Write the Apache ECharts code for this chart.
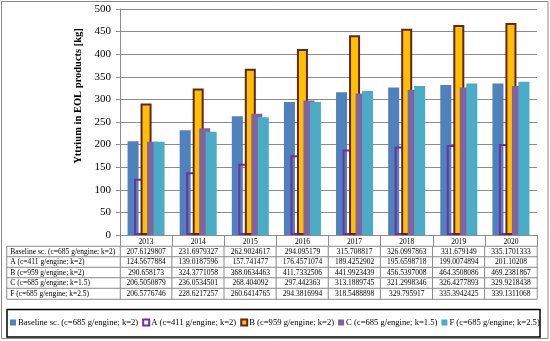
<!DOCTYPE html>
<html>
<head>
<meta charset="utf-8">
<script src="https://cdn.jsdelivr.net/npm/echarts@6/dist/echarts.min.js"></script>
<style>html,body{margin:0;padding:0;background:#fff;}#c{width:550px;height:341px;}</style>
</head>
<body>
<div id="c"></div>
<script>
const years = ['2013','2014','2015','2016','2017','2018','2019','2020'];
const seriesNames = [
  'Baseline sc. (c=685 g/engine; k=2)',
  'A (c=411 g/engine; k=2)',
  'B (c=959 g/engine; k=2)',
  'C (c=685 g/engine; k=1.5)',
  'F (c=685 g/engine; k=2.5)'
];
const baseline = [207.6129807, 231.6979327, 262.9024617, 294.095179, 315.708817, 326.0997863, 331.679149, 335.1701333];
const scenA = [124.5677884, 139.0187596, 157.741477, 176.4571074, 189.4252902, 195.6598718, 199.0074894, 201.10208];
const scenB = [290.658173, 324.3771058, 368.0634463, 411.7332506, 441.9923439, 456.5397008, 464.3508086, 469.2381867];
const scenC = [206.5050879, 236.0534501, 268.404092, 297.442363, 313.1889745, 321.2998346, 326.4277893, 329.9218438];
const scenF = [206.5776746, 228.6217257, 260.6414765, 294.3816994, 318.5488898, 329.795917, 335.3942425, 339.1311068];
const yTitle = 'Yttrium in EOL products [kg]';

const allSeries = [baseline, scenA, scenB, scenC, scenF];
const serif = 'Liberation Serif, Times New Roman, serif';
const gridGray = '#8c8c8c';

const tableData = [];
allSeries.forEach((arr, r) => arr.forEach((v, c) => tableData.push([c, r, v])));
const headerData = seriesNames.map((n, r) => [0, r, r]);

const chart = echarts.init(document.getElementById('c'), null, {renderer: 'canvas'});
chart.setOption({
  animation: false,
  backgroundColor: '#fff',
  grid: [
    {left: 120, right: 13, top: 9, bottom: 106},
    {left: 120, right: 13, top: 246.5, height: 52.5},
    {left: 7, width: 113, top: 246.5, height: 52.5}
  ],
  xAxis: [
    {type: 'category', data: years, gridIndex: 0,
     axisLine: {lineStyle: {color: gridGray, width: 1}},
     axisTick: {show: true, length: 11.5, lineStyle: {color: gridGray}},
     axisLabel: {color: '#000', fontFamily: serif, fontSize: 7.5, margin: 3}},
    {type: 'category', data: years, gridIndex: 1, show: false},
    {type: 'category', data: ['h'], gridIndex: 2, show: false}
  ],
  yAxis: [
    {type: 'value', min: 0, max: 500, interval: 50, gridIndex: 0,
     axisLine: {show: true, lineStyle: {color: gridGray}},
     axisTick: {show: true, length: 4, lineStyle: {color: gridGray}},
     axisLabel: {color: '#000', fontFamily: serif, fontSize: 11, margin: 9},
     splitLine: {lineStyle: {color: gridGray, width: 1}}},
    {type: 'category', data: seriesNames, inverse: true, gridIndex: 1, show: false},
    {type: 'category', data: seriesNames, inverse: true, gridIndex: 2, show: false}
  ],
  legend: {
    data: seriesNames,
    left: 10, top: 318,
    icon: 'rect',
    itemWidth: 6, itemHeight: 6, itemGap: 4,
    padding: 0,
    textStyle: {fontFamily: serif, fontSize: 8.6, color: '#000', padding: [0,0,0,-3]},
    selectedMode: false
  },
  series: [
    {name: seriesNames[0], type: 'bar', data: baseline, barGap: '-41%', barCategoryGap: '29%',
     itemStyle: {color: '#4f81bd'}},
    {name: seriesNames[1], type: 'bar', data: scenA,
     itemStyle: {color: 'rgba(255,255,255,0)', borderColor: '#7030a0', borderWidth: 2}},
    {name: seriesNames[2], type: 'bar', data: scenB,
     itemStyle: {color: '#ffc000', borderColor: '#632523', borderWidth: 2}},
    {name: seriesNames[3], type: 'bar', data: scenC,
     itemStyle: {color: '#8064a2'}},
    {name: seriesNames[4], type: 'bar', data: scenF,
     itemStyle: {color: '#4bacc6'}},
    {type: 'heatmap', xAxisIndex: 1, yAxisIndex: 1, data: tableData,
     itemStyle: {color: '#fff', borderColor: gridGray, borderWidth: 1},
     label: {show: true, color: '#000', fontFamily: serif, fontSize: 7.5,
             formatter: p => String(p.value[2])},
     emphasis: {disabled: true}, silent: true},
    {type: 'heatmap', xAxisIndex: 2, yAxisIndex: 2, data: headerData,
     itemStyle: {color: '#fff', borderColor: gridGray, borderWidth: 1},
     label: {show: true, color: '#000', fontFamily: serif, fontSize: 7.5,
             position: [4, '50%'], align: 'left', verticalAlign: 'middle',
             formatter: p => seriesNames[p.value[1]]},
     emphasis: {disabled: true}, silent: true}
  ],
  graphic: [
    {type: 'rect', shape: {x: 1.5, y: 1.5, width: 546.5, height: 337}, silent: true,
     style: {fill: null, stroke: '#8a8a8a', lineWidth: 1}},
    {type: 'rect', shape: {x: 7, y: 309.5, width: 533, height: 27.5}, silent: true,
     style: {fill: null, stroke: '#000', lineWidth: 1.5}},
    {type: 'text', x: 78, y: 96, rotation: Math.PI / 2, silent: true,
     style: {text: yTitle, font: 'bold 10.5px ' + serif, fill: '#000', align: 'center', verticalAlign: 'middle'}}
  ]
});
</script>
</body>
</html>
